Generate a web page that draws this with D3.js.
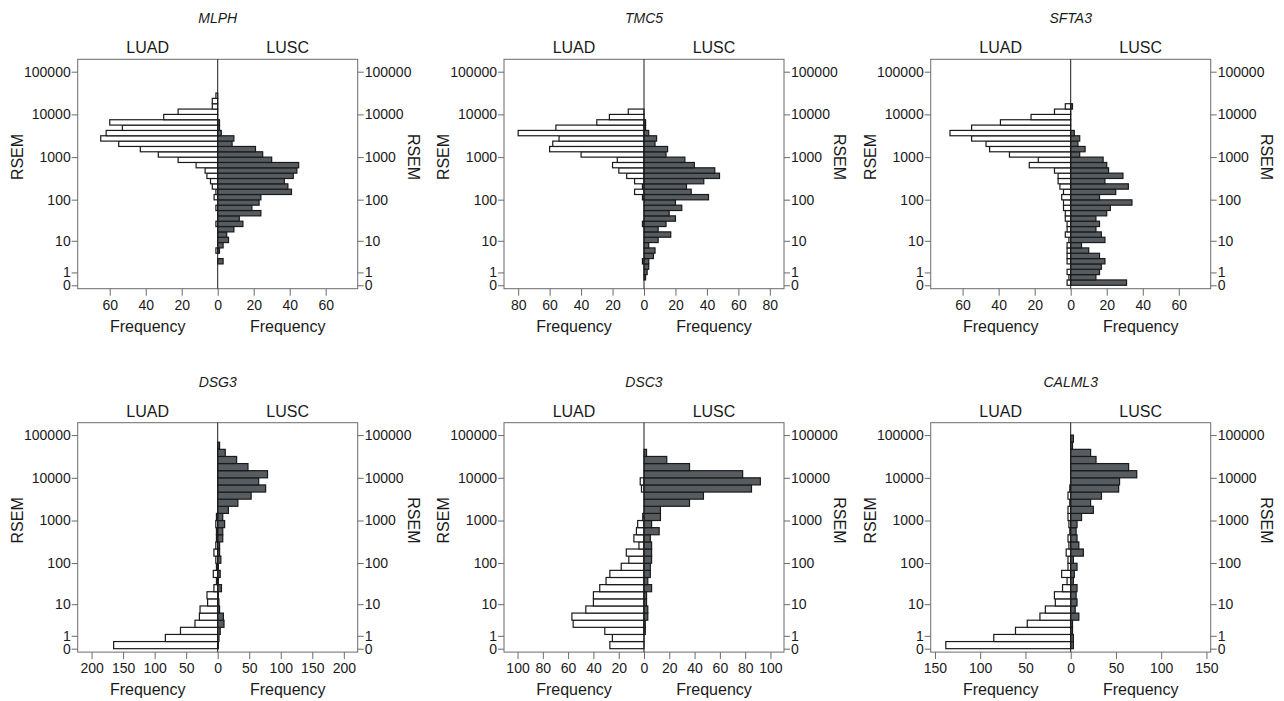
<!DOCTYPE html>
<html>
<head>
<meta charset="utf-8">
<script src="https://cdn.jsdelivr.net/npm/d3@7"></script>
<style>
body { margin: 0; background: #fff; }
text { font-family: "Liberation Sans", Arial, Helvetica, sans-serif; fill: #1a1a1a; }
</style>
</head>
<body>
<svg id="chart" width="1284" height="701"></svg>
<script>
// counts per bin, bin 0 starts at log10(RSEM+1) = 0
var genes = ["MLPH", "TMC5", "SFTA3", "DSG3", "DSC3", "CALML3"];

var mlphLuad = [0,0,0,0,0,0,1,0,0,0,0,1,0,0,1,0,2,1,3,4,6,7,12,22,33,43,55,65,62,53,60,30,22,3,3,1];
var mlphLusc = [0,0,0,0,3,0,1,3,6,5,9,14,12,24,19,23,24,41,39,37,42,44,45,30,25,21,8,9,2,1,1];
var tmc5Luad = [0,0,0,0,1,0,0,0,0,0,0,1,0,0,0,0,1,6,1,6,11,16,20,17,40,60,58,54,80,56,30,22,10];
var tmc5Lusc = [0,1,2,3,3,6,7,3,9,17,9,14,20,16,24,20,41,30,27,38,48,45,32,26,14,15,7,8,3,1,1];
var sfta3Luad = [2,1,2,0,2,2,2,2,1,3,2,2,3,3,4,4,5,4,6,7,7,9,23,18,34,45,47,55,67,55,39,22,9,3];
var sfta3Lusc = [31,14,16,17,19,16,10,6,19,17,14,16,14,20,22,34,16,25,32,19,29,21,20,18,5,8,4,5,2,0,0,0,0,1];
var dsg3Luad = [165,83,59,36,29,28,16,17,6,2,7,2,3,6,3,2,2,3,2];
var dsg3Lusc = [1,2,4,10,9,3,2,1,6,1,4,1,5,3,3,8,8,11,8,17,32,53,76,65,79,48,30,12,3];
var dsc3Luad = [27,25,31,56,57,46,40,40,35,30,27,18,12,14,4,8,6,5,1,0,0,0,2,3];
var dsc3Lusc = [0,0,1,1,3,3,2,2,6,3,5,5,6,6,6,5,12,6,13,13,36,47,85,92,78,36,18,2];
var calml3Luad = [138,85,61,48,34,28,17,18,9,4,10,3,3,5,2,3,1,2,3,3,1,3,1];
var calml3Lusc = [3,3,2,2,9,5,7,6,7,3,4,7,3,14,9,7,6,7,12,25,22,34,53,54,73,64,28,22,2,3];

var luadCounts = [mlphLuad, tmc5Luad, sfta3Luad, dsg3Luad, dsc3Luad, calml3Luad];
var luscCounts = [mlphLusc, tmc5Lusc, sfta3Lusc, dsg3Lusc, dsc3Lusc, calml3Lusc];
var binWidths = [0.125, 0.125, 0.125, 1/6, 1/6, 1/6];

var freqMax = [77.8, 89, 77.7, 222, 110.7, 154.7];
var freqTicks = [
  [0, 20, 40, 60],
  [0, 20, 40, 60, 80],
  [0, 20, 40, 60],
  [0, 50, 100, 150, 200],
  [0, 20, 40, 60, 80, 100],
  [0, 50, 100, 150]
];
var rsemTicks = [0, 1, 10, 100, 1000, 10000, 100000];

var svg = d3.select("#chart");

var colLeft = [77.7, 504, 930.7];
var rowTop = [59.3, 422.7];
var pw = 280, ph = 229.4;

var y = d3.scaleLinear().domain([-0.08, 5.29]).range([ph, 0]);
var yTickPos = rsemTicks.map(function(v) { return Math.log10(v + 1); });

genes.forEach(function(gene, k) {
  var left = colLeft[k % 3], top = rowTop[Math.floor(k / 3)];
  var cx = pw / 2;
  var g = svg.append("g").attr("transform", "translate(" + left + "," + top + ")");

  var xL = d3.scaleLinear().domain([0, freqMax[k]]).range([cx, 0]);
  var xR = d3.scaleLinear().domain([0, freqMax[k]]).range([cx, pw]);
  var bw = binWidths[k];

  // frame
  g.append("rect").attr("width", pw).attr("height", ph)
    .attr("fill", "none").attr("stroke", "#6b6b6b").attr("stroke-width", 1);

  // LUAD bars (left, white)
  g.selectAll(".luad").data(luadCounts[k].map(function(c, i) { return {c: c, i: i}; })
      .filter(function(d) { return d.c > 0; }))
    .enter().append("rect")
    .attr("x", function(d) { return xL(d.c); })
    .attr("width", function(d) { return cx - xL(d.c); })
    .attr("y", function(d) { return y((d.i + 1) * bw); })
    .attr("height", function(d) { return y(d.i * bw) - y((d.i + 1) * bw); })
    .attr("fill", "#fff").attr("stroke", "#1a1a1a").attr("stroke-width", 1.2);

  // LUSC bars (right, dark)
  g.selectAll(".lusc").data(luscCounts[k].map(function(c, i) { return {c: c, i: i}; })
      .filter(function(d) { return d.c > 0; }))
    .enter().append("rect")
    .attr("x", cx)
    .attr("width", function(d) { return xR(d.c) - cx; })
    .attr("y", function(d) { return y((d.i + 1) * bw); })
    .attr("height", function(d) { return y(d.i * bw) - y((d.i + 1) * bw); })
    .attr("fill", "#575c61").attr("stroke", "#1a1a1a").attr("stroke-width", 1.2);

  // zero line
  g.append("line").attr("x1", cx).attr("x2", cx).attr("y1", 0).attr("y2", ph)
    .attr("stroke", "#1a1a1a").attr("stroke-width", 1);

  // y axes
  var yl = g.append("g").call(d3.axisLeft(y).tickValues(yTickPos)
    .tickFormat(function(d, i) { return rsemTicks[i]; }).tickSize(6).tickPadding(1));
  var yr = g.append("g").attr("transform", "translate(" + pw + ",0)")
    .call(d3.axisRight(y).tickValues(yTickPos)
    .tickFormat(function(d, i) { return rsemTicks[i]; }).tickSize(6).tickPadding(1));

  // x axes
  var xa = g.append("g").attr("transform", "translate(0," + ph + ")")
    .call(d3.axisBottom(xL).tickValues(freqTicks[k]).tickSize(7).tickPadding(4));
  var xb = g.append("g").attr("transform", "translate(0," + ph + ")")
    .call(d3.axisBottom(xR).tickValues(freqTicks[k].filter(function(t) { return t > 0; }))
    .tickSize(7).tickPadding(4));

  [yl, yr, xa, xb].forEach(function(a) {
    a.select(".domain").remove();
    a.selectAll("line").attr("stroke", "#6b6b6b");
    a.selectAll("text").style("font-size", "14px").attr("fill", "#1a1a1a");
  });

  // labels
  g.append("text").attr("x", cx).attr("y", -36).attr("text-anchor", "middle")
    .style("font-size", "14px").style("font-style", "italic").text(gene);
  g.append("text").attr("x", cx / 2).attr("y", -6).attr("text-anchor", "middle")
    .style("font-size", "16px").text("LUAD");
  g.append("text").attr("x", cx * 1.5).attr("y", -6).attr("text-anchor", "middle")
    .style("font-size", "16px").text("LUSC");
  g.append("text").attr("x", cx / 2).attr("y", ph + 43).attr("text-anchor", "middle")
    .style("font-size", "16px").text("Frequency");
  g.append("text").attr("x", cx * 1.5).attr("y", ph + 43).attr("text-anchor", "middle")
    .style("font-size", "16px").text("Frequency");
  g.append("text").attr("transform", "translate(-55," + (ph / 2 - 17) + ") rotate(-90)")
    .attr("text-anchor", "middle").style("font-size", "16px").text("RSEM");
  g.append("text").attr("transform", "translate(" + (pw + 50) + "," + (ph / 2 - 17) + ") rotate(90)")
    .attr("text-anchor", "middle").style("font-size", "16px").text("RSEM");
});
</script>
</body>
</html>
